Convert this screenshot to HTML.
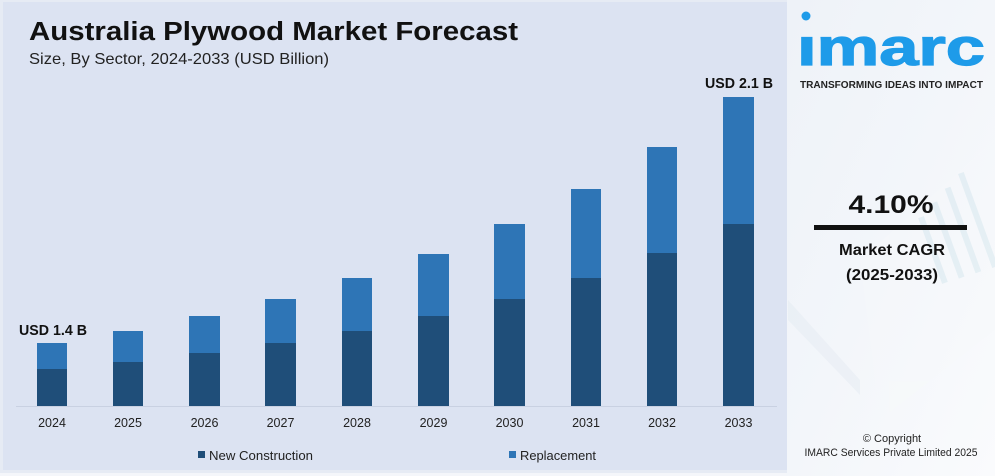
<!DOCTYPE html>
<html><head><meta charset="utf-8"><style>
html,body{margin:0;padding:0;width:995px;height:476px;overflow:hidden;background:#f4f6fa}
svg{display:block}
text{font-family:"Liberation Sans",sans-serif}
</style></head><body>
<svg width="995" height="476" viewBox="0 0 995 476" xmlns="http://www.w3.org/2000/svg">
<defs>
<linearGradient id="rg" x1="0" y1="0" x2="1" y2="1">
<stop offset="0" stop-color="#eef2f8"/>
<stop offset="0.5" stop-color="#f3f6fa"/>
<stop offset="1" stop-color="#fafbfd"/>
</linearGradient>
</defs>
<!-- right panel -->
<rect x="786" y="0" width="209" height="476" fill="url(#rg)"/>
<g opacity="0.4">
<polygon points="788,300 860,380 860,395 788,320" fill="#e2e9f1"/>
<polygon points="860,260 995,140 995,330 880,420" fill="#f7f9fb"/>
<g fill="#cde3ec">
<rect x="930" y="215" width="6" height="70" transform="rotate(-20 933 250)"/>
<rect x="945" y="200" width="6" height="80" transform="rotate(-20 948 240)"/>
<rect x="960" y="185" width="6" height="90" transform="rotate(-20 963 230)"/>
<rect x="975" y="170" width="6" height="100" transform="rotate(-20 978 220)"/>
</g>
</g>
<!-- left panel -->
<rect x="0" y="0" width="787" height="473" fill="#e6ebf4"/>
<rect x="3" y="2" width="784" height="468" fill="#dce3f2"/>

<text x="29" y="40" font-size="25.5" font-weight="bold" fill="#111" textLength="489" lengthAdjust="spacingAndGlyphs">Australia Plywood Market Forecast</text>
<text x="29" y="64" font-size="16" fill="#222" textLength="300" lengthAdjust="spacingAndGlyphs">Size, By Sector, 2024-2033 (USD Billion)</text>

<line x1="16" y1="406.5" x2="777" y2="406.5" stroke="#c9d1e2" stroke-width="1"/>

<g>
<rect x="37" y="369" width="30" height="37" fill="#1f4e79"/><rect x="37" y="343" width="30" height="26" fill="#2e75b6"/>
<rect x="113" y="362" width="30" height="44" fill="#1f4e79"/><rect x="113" y="331" width="30" height="31" fill="#2e75b6"/>
<rect x="189" y="353" width="31" height="53" fill="#1f4e79"/><rect x="189" y="316" width="31" height="37" fill="#2e75b6"/>
<rect x="265" y="343" width="31" height="63" fill="#1f4e79"/><rect x="265" y="299" width="31" height="44" fill="#2e75b6"/>
<rect x="342" y="331" width="30" height="75" fill="#1f4e79"/><rect x="342" y="278" width="30" height="53" fill="#2e75b6"/>
<rect x="418" y="316" width="31" height="90" fill="#1f4e79"/><rect x="418" y="254" width="31" height="62" fill="#2e75b6"/>
<rect x="494" y="299" width="31" height="107" fill="#1f4e79"/><rect x="494" y="224" width="31" height="75" fill="#2e75b6"/>
<rect x="571" y="278" width="30" height="128" fill="#1f4e79"/><rect x="571" y="189" width="30" height="89" fill="#2e75b6"/>
<rect x="647" y="253" width="30" height="153" fill="#1f4e79"/><rect x="647" y="147" width="30" height="106" fill="#2e75b6"/>
<rect x="723" y="224" width="31" height="182" fill="#1f4e79"/><rect x="723" y="97" width="31" height="127" fill="#2e75b6"/>
</g>

<text x="19" y="335" font-size="15" font-weight="bold" fill="#111" textLength="68" lengthAdjust="spacingAndGlyphs">USD 1.4 B</text>
<text x="705" y="88" font-size="15" font-weight="bold" fill="#111" textLength="68" lengthAdjust="spacingAndGlyphs">USD 2.1 B</text>

<g font-size="12.5" fill="#222" text-anchor="middle">
<text x="52" y="427">2024</text>
<text x="128" y="427">2025</text>
<text x="204.5" y="427">2026</text>
<text x="280.5" y="427">2027</text>
<text x="357" y="427">2028</text>
<text x="433.5" y="427">2029</text>
<text x="509.5" y="427">2030</text>
<text x="586" y="427">2031</text>
<text x="662" y="427">2032</text>
<text x="738.5" y="427">2033</text>
</g>

<rect x="198" y="451" width="7" height="7" fill="#1f4e79"/>
<text x="209" y="460" font-size="12.5" fill="#222" textLength="104" lengthAdjust="spacingAndGlyphs">New Construction</text>
<rect x="509" y="451" width="7" height="7" fill="#2e75b6"/>
<text x="520" y="460" font-size="12.5" fill="#222" textLength="76" lengthAdjust="spacingAndGlyphs">Replacement</text>

<!-- logo -->
<circle cx="806" cy="16" r="4.5" fill="#1e9be9"/>
<text x="797" y="65" font-size="52" font-weight="bold" fill="#1e9be9" stroke="#1e9be9" stroke-width="1.2" textLength="188" lengthAdjust="spacingAndGlyphs">ımarc</text>
<text x="800" y="88" font-size="10.5" font-weight="bold" fill="#222" textLength="183" lengthAdjust="spacingAndGlyphs">TRANSFORMING IDEAS INTO IMPACT</text>

<text x="891" y="213" font-size="25" font-weight="bold" fill="#111" text-anchor="middle" textLength="85" lengthAdjust="spacingAndGlyphs">4.10%</text>
<rect x="814" y="225" width="153" height="5" fill="#111"/>
<text x="892" y="255" font-size="16" font-weight="bold" fill="#111" text-anchor="middle" textLength="106" lengthAdjust="spacingAndGlyphs">Market CAGR</text>
<text x="892" y="280" font-size="16" font-weight="bold" fill="#111" text-anchor="middle" textLength="92" lengthAdjust="spacingAndGlyphs">(2025-2033)</text>

<text x="892" y="442" font-size="11" fill="#222" text-anchor="middle">© Copyright</text>
<text x="891" y="456" font-size="11" fill="#222" text-anchor="middle" textLength="173" lengthAdjust="spacingAndGlyphs">IMARC Services Private Limited 2025</text>
</svg>
</body></html>
